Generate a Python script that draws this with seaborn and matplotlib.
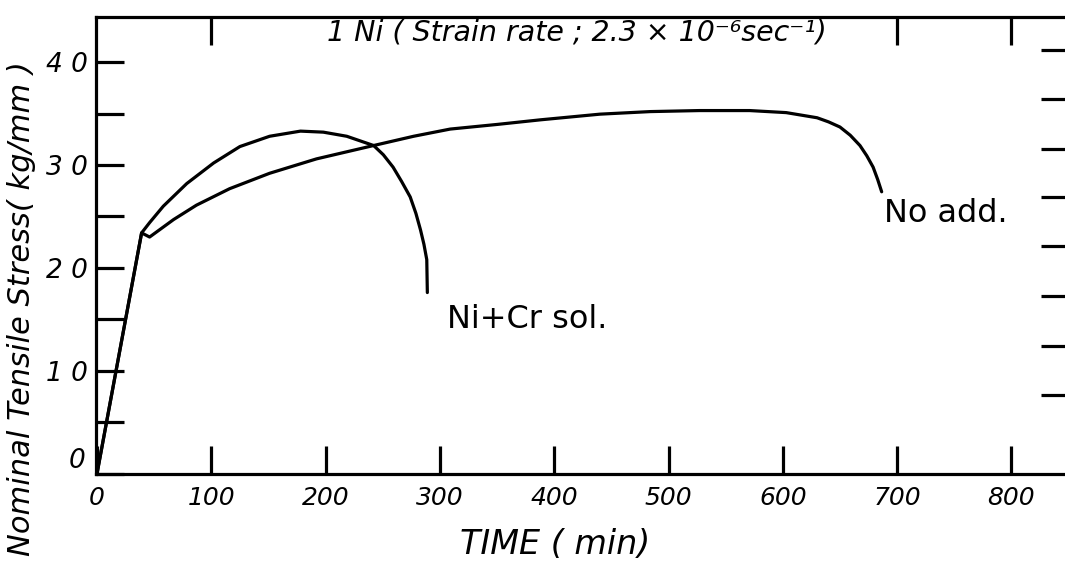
import matplotlib
matplotlib.use("Agg")
import matplotlib.pyplot as plt
import matplotlib.transforms as mtrans
import seaborn as sns
import pandas as pd

# ---- data ----
time_no_add = [0, 39, 46, 67, 87, 116, 151, 192, 242, 277, 309, 350, 388, 440,
               484, 527, 571, 603, 630, 640, 650, 659, 667.5, 673.5, 679, 683, 686.5]
stress_no_add = [0, 23.4, 23.0, 24.7, 26.1, 27.7, 29.2, 30.6, 31.9, 32.8, 33.5, 33.95,
                 34.4, 34.95, 35.2, 35.3, 35.3, 35.1, 34.6, 34.2, 33.7, 32.9, 31.9,
                 30.9, 29.8, 28.6, 27.4]

time_nicr = [0, 39, 46, 58, 78.5, 102, 125, 151, 178, 198, 218.5, 242, 250.5,
             259, 266.5, 274, 279, 283, 286, 288.5, 289]
stress_nicr = [0, 23.4, 24.4, 26.0, 28.2, 30.2, 31.8, 32.8, 33.3, 33.2, 32.8, 31.9,
               31.0, 29.8, 28.4, 26.9, 25.3, 23.7, 22.3, 20.8, 17.6]

x_ticks = [0, 100, 200, 300, 400, 500, 600, 700, 800]
x_tick_labels = ["0", "100", "200", "300", "400", "500", "600", "700", "800"]
y_ticks = [0, 5, 10, 15, 20, 25, 30, 35, 40]
y_tick_labels = ["0", "", "1 0", "", "2 0", "", "3 0", "", "4 0"]
top_ticks = [100, 700, 800]
right_ticks = [7.6, 12.4, 17.3, 22.1, 26.9, 31.6, 36.4, 41.2]

title_text = "1 Ni ( Strain rate ; 2.3 × 10⁻⁶sec⁻¹)"
x_label = "TIME ( min)"
y_label = "Nominal Tensile Stress( kg/mm )"
label_nicr = "Ni+Cr sol."
label_no_add = "No add."

# ---- styling ----
sns.set_style("white")
plt.rcParams["font.family"] = ["DejaVu Sans"]
plt.rcParams["text.color"] = "black"
plt.rcParams["xtick.color"] = "black"
plt.rcParams["ytick.color"] = "black"
plt.rcParams["xtick.labelcolor"] = "black"
plt.rcParams["ytick.labelcolor"] = "black"

LW = 2.3
TL = 20

fig = plt.figure(figsize=(10.65, 5.64), dpi=100)
ax = fig.add_axes([96 / 1065, 1 - 473.5 / 564, (1069 - 96) / 1065, (473.5 - 17) / 564])

df_no = pd.DataFrame({"time": time_no_add, "stress": stress_no_add})
df_ni = pd.DataFrame({"time": time_nicr, "stress": stress_nicr})
sns.lineplot(data=df_no, x="time", y="stress", ax=ax, color="black", lw=LW,
             sort=False, estimator=None)
sns.lineplot(data=df_ni, x="time", y="stress", ax=ax, color="black", lw=LW,
             sort=False, estimator=None)

ax.set_xlim(-0.9, 850.4)
ax.set_ylim(0, 44.4)
ax.set_xlabel("")
ax.set_ylabel("")

for s in ax.spines.values():
    s.set_linewidth(LW)
    s.set_color("black")

ax.set_xticks(x_ticks)
ax.set_xticklabels(x_tick_labels, fontstyle="italic", fontsize=18, color="black")
ax.set_yticks(y_ticks)
ax.set_yticklabels(y_tick_labels, fontstyle="italic", fontsize=19, color="black")
ax.tick_params(axis="both", direction="in", length=TL, width=LW, color="black")
ax.tick_params(axis="x", pad=9)
ax.tick_params(axis="y", pad=6)

# shift the y "0" label up like the reference
lbl0 = ax.get_yticklabels()[0]
lbl0.set_transform(lbl0.get_transform() +
                   mtrans.ScaledTranslation(-0.02, 0.16, fig.dpi_scale_trans))

# top ticks
axt = ax.twiny()
axt.set_xlim(ax.get_xlim())
axt.set_xticks(top_ticks)
axt.set_xticklabels([])
axt.tick_params(axis="x", direction="in", length=TL, width=LW, color="black")
# right ticks
axr = ax.twinx()
axr.set_ylim(ax.get_ylim())
axr.set_yticks(right_ticks)
axr.set_yticklabels([])
axr.tick_params(axis="y", direction="in", length=TL, width=LW, color="black")
for a in (axt, axr):
    for s in a.spines.values():
        s.set_visible(False)

# texts
fig.text(577 / 1065, 1 - 32 / 564, title_text, ha="center", va="center",
         fontsize=20.5, fontstyle="italic", color="black")
fig.text(555 / 1065, 1 - 545 / 564, x_label, ha="center", va="center",
         fontsize=24, fontstyle="italic", color="black")
fig.text(22 / 1065, 1 - 309 / 564, y_label, ha="center", va="center",
         fontsize=22, fontstyle="italic", rotation=90, color="black")

ax.text(306, 15.0, label_nicr, fontsize=23, ha="left", va="center", color="black")
ax.text(688.5, 25.3, label_no_add, fontsize=23, ha="left", va="center", color="black")

fig.savefig("out.png", dpi=100)
